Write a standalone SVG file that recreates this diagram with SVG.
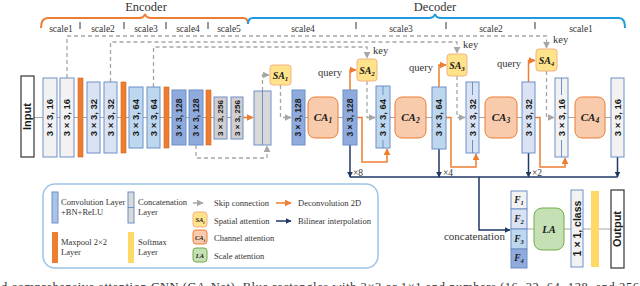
<svg xmlns="http://www.w3.org/2000/svg" width="640" height="286" viewBox="0 0 640 286">
<style>
.blk{stroke:#6F8FC8;stroke-width:1}
.io{fill:#fff;stroke:#333;stroke-width:1.2}
.mp{fill:#ED7D31;stroke:#D0651C;stroke-width:0.6}
.bt{font-family:"Liberation Sans",Arial,sans-serif;font-weight:bold;fill:#1a1a1a;text-anchor:middle}
.sr{font-family:"Liberation Serif","Times New Roman",serif;fill:#333}
.it{font-family:"Liberation Serif","Times New Roman",serif;font-weight:bold;font-style:italic;fill:#1a1a1a;text-anchor:middle}
.ca{fill:#F8CBAD;stroke:#ED7D31;stroke-width:1}
.sa{fill:#FFE38A;stroke:#F4B183;stroke-width:1}
.la{fill:#C5E0B4;stroke:#70AD47;stroke-width:1}
.dash{fill:none;stroke:#A6A6A6;stroke-width:1.3;stroke-dasharray:4 3}
.org{fill:none;stroke:#ED7D31;stroke-width:1.5}
.nav{fill:none;stroke:#1F3864;stroke-width:1.5}
.gl{fill:none;stroke:#A6A6A6;stroke-width:1}
.tick{stroke:#333;stroke-width:1}
</style>
<defs>
<marker id="ag" viewBox="0 0 10 10" refX="9" refY="5" markerWidth="7" markerHeight="7" orient="auto" markerUnits="userSpaceOnUse"><path d="M0,0 L10,5 L0,10 z" fill="#A6A6A6"/></marker>
<marker id="ao" viewBox="0 0 10 10" refX="9" refY="5" markerWidth="7" markerHeight="7" orient="auto" markerUnits="userSpaceOnUse"><path d="M0,0 L10,5 L0,10 z" fill="#ED7D31"/></marker>
<marker id="an" viewBox="0 0 10 10" refX="9" refY="5" markerWidth="6" markerHeight="6" orient="auto" markerUnits="userSpaceOnUse"><path d="M0,0 L10,5 L0,10 z" fill="#1F3864"/></marker>
</defs>
<rect width="640" height="286" fill="#fff"/>

<g id="braces">
<text class="sr" x="146" y="11" font-size="12.5" text-anchor="middle">Encoder</text>
<text class="sr" x="435" y="11" font-size="12.5" text-anchor="middle">Decoder</text>
<path d="M41,28 C41,21 43,18 48,18 H139 Q144,18 145,14 Q146,18 151,18 H243 Q248,18 248,24" fill="none" stroke="#ED7D31" stroke-width="2"/>
<path d="M248,24 Q248,18 253,18 H429 Q434,18 435,14 Q436,18 441,18 H619 Q625,18 625,28" fill="none" stroke="#1E9BE0" stroke-width="2"/>
<g class="tick"><line x1="80" y1="22" x2="80" y2="29"/><line x1="124" y1="22" x2="124" y2="29"/><line x1="166" y1="22" x2="166" y2="29"/><line x1="208" y1="22" x2="208" y2="29"/><line x1="356" y1="22" x2="356" y2="29"/><line x1="446" y1="22" x2="446" y2="29"/><line x1="535" y1="22" x2="535" y2="29"/></g>
<g class="sr" font-size="9.5" text-anchor="middle">
<text x="61" y="32">scale1</text><text x="103" y="32">scale2</text><text x="146" y="32">scale3</text><text x="188" y="32">scale4</text><text x="229" y="32">scale5</text>
<text x="303" y="32">scale4</text><text x="401" y="32">scale3</text><text x="491" y="32">scale2</text><text x="581" y="32">scale1</text>
</g>
</g>

<g id="connectors">
<path class="gl" d="M34,117.5 H243 M305,117.5 H308 M338,117.5 H343 M390,117.5 H395 M426,117.5 H432 M479,117.5 H485 M517,117.5 H522 M568,117.5 H575 M605,117.5 H611 M527,229 H534 M564,229 H571 M583,229 H611"/>
<path class="dash" d="M67,78 V36 H546.5 V48" marker-end="url(#ag)"/>
<path class="dash" d="M110.5,82 V42 H457 V53" marker-end="url(#ag)"/>
<path class="dash" d="M153.5,87 V47 H367 V58" marker-end="url(#ag)"/>
<path class="dash" d="M196,145 V158 H267 V146" marker-end="url(#ag)"/>
<path class="dash" d="M262.5,91 V75 H269" marker-end="url(#ag)"/>
<path class="dash" d="M280.5,85 V117.5 H291" marker-end="url(#ag)"/>
<path class="dash" d="M367,81 V117.5 H375" marker-end="url(#ag)"/>
<path class="dash" d="M457,76 V117.5 H465" marker-end="url(#ag)"/>
<path class="dash" d="M546.5,71 V117.5 H554" marker-end="url(#ag)"/>
<path class="org" d="M243,117.5 H253" marker-end="url(#ao)"/>
<path class="org" d="M350,90 V70 H356" marker-end="url(#ao)"/>
<path class="org" d="M357,117.5 H362 V162 H387 V149" marker-end="url(#ao)"/>
<path class="org" d="M439,87 V65 H446" marker-end="url(#ao)"/>
<path class="org" d="M446,117.5 H451 V167 H476 V154" marker-end="url(#ao)"/>
<path class="org" d="M528.5,82 V60.5 H535" marker-end="url(#ao)"/>
<path class="org" d="M535,117.5 H540 V167 H565 V158" marker-end="url(#ao)"/>
<path class="nav" d="M350,177 H617.5"/>
<path class="nav" d="M350,145 V177" marker-end="url(#an)"/>
<path class="nav" d="M439,149 V177" marker-end="url(#an)"/>
<path class="nav" d="M528.5,153 V177" marker-end="url(#an)"/>
<path class="nav" d="M617.5,157 V177" marker-end="url(#an)"/>
<path class="nav" d="M479,177 V230 H510" marker-end="url(#an)"/>
<g class="sr" font-size="9.5"><text x="353" y="176">×8</text><text x="443" y="176">×4</text><text x="532" y="176">×2</text></g>
<g class="sr" font-size="10.5"><text x="318" y="76">query</text><text x="409" y="71">query</text><text x="497" y="67">query</text><text x="373" y="54">key</text><text x="463" y="48">key</text><text x="553" y="43">key</text></g>
</g>

<g id="input"><rect class="io" x="21" y="76" width="13" height="81"/><text class="bt" font-size="11" transform="translate(27.5,116.5) rotate(-90)" dy="0.35em">Input</text></g>
<g id="enc1"><rect class="blk" x="43" y="78" width="14" height="79" fill="#F2F2F2"/><text class="bt" font-size="9.5" transform="translate(50,117.5) rotate(-90)" dy="0.35em">3 × 3, 16</text></g>
<g id="enc2"><rect class="blk" x="60" y="78" width="14" height="79" fill="#F2F2F2"/><text class="bt" font-size="9.5" transform="translate(67,117.5) rotate(-90)" dy="0.35em">3 × 3, 16</text></g>
<g id="pool1"><rect class="mp" x="78" y="78" width="5" height="79"/></g>
<g id="enc3"><rect class="blk" x="87" y="82" width="13" height="71" fill="#DAE3F3"/><text class="bt" font-size="9.5" transform="translate(93.5,117.5) rotate(-90)" dy="0.35em">3 × 3, 32</text></g>
<g id="enc4"><rect class="blk" x="104" y="82" width="13" height="71" fill="#DAE3F3"/><text class="bt" font-size="9.5" transform="translate(110.5,117.5) rotate(-90)" dy="0.35em">3 × 3, 32</text></g>
<g id="pool2"><rect class="mp" x="121" y="82" width="5" height="71"/></g>
<g id="enc5"><rect class="blk" x="129" y="87" width="14" height="61" fill="#BDD7EE"/><text class="bt" font-size="9.5" transform="translate(136,117.5) rotate(-90)" dy="0.35em">3 × 3, 64</text></g>
<g id="enc6"><rect class="blk" x="147" y="87" width="13" height="61" fill="#BDD7EE"/><text class="bt" font-size="9.5" transform="translate(153.5,117.5) rotate(-90)" dy="0.35em">3 × 3, 64</text></g>
<g id="pool3"><rect class="mp" x="164" y="87" width="5" height="61"/></g>
<g id="enc7"><rect class="blk" x="172" y="90" width="14" height="55" fill="#8FAADC"/><text class="bt" font-size="8.5" transform="translate(179,117.5) rotate(-90)" dy="0.35em">3 × 3, 128</text></g>
<g id="enc8"><rect class="blk" x="189" y="90" width="14" height="55" fill="#8FAADC"/><text class="bt" font-size="8.5" transform="translate(196,117.5) rotate(-90)" dy="0.35em">3 × 3, 128</text></g>
<g id="pool4"><rect class="mp" x="206" y="90" width="5" height="55"/></g>
<g id="enc9"><rect class="blk" x="214" y="97" width="13" height="42" fill="#D0CECE"/><text class="bt" font-size="8" transform="translate(220.5,118) rotate(-90)" dy="0.35em">3 × 3, 256</text></g>
<g id="enc10"><rect class="blk" x="231" y="97" width="12" height="42" fill="#D0CECE"/><text class="bt" font-size="8" transform="translate(237,118) rotate(-90)" dy="0.35em">3 × 3, 256</text></g>
<g id="concat0"><rect class="blk" x="254" y="91" width="17" height="54" fill="#D9D9D9"/><line class="blk" x1="262.5" y1="91" x2="262.5" y2="145"/></g>

<g id="sa1"><rect class="sa" x="270" y="65" width="21" height="20" rx="3"/><text class="it" x="280.5" y="79" font-size="10">SA<tspan font-size="7" dy="2">1</tspan></text></g>
<g id="dec1"><rect class="blk" x="292" y="90" width="13" height="55" fill="#8FAADC"/><text class="bt" font-size="8.5" transform="translate(298.5,117.5) rotate(-90)" dy="0.35em">3 × 3, 128</text></g>
<g id="ca1"><rect class="ca" x="308" y="97" width="30" height="41" rx="7"/><text class="it" x="323" y="121" font-size="11">CA<tspan font-size="7.5" dy="2">1</tspan></text></g>
<g id="dec2"><rect class="blk" x="343" y="90" width="14" height="55" fill="#8FAADC"/><text class="bt" font-size="8.5" transform="translate(350,117.5) rotate(-90)" dy="0.35em">3 × 3, 128</text></g>
<g id="sa2"><rect class="sa" x="357" y="59" width="20" height="22" rx="3"/><text class="it" x="367" y="74" font-size="10">SA<tspan font-size="7" dy="2">2</tspan></text></g>
<g id="dec3"><rect class="blk" x="376" y="86" width="14" height="62" fill="#BDD7EE"/><line class="blk" x1="383" y1="86" x2="383" y2="95"/><line class="blk" x1="383" y1="140" x2="383" y2="148"/><text class="bt" font-size="9.5" transform="translate(383,117.5) rotate(-90)" dy="0.35em">3 × 3, 64</text></g>
<g id="ca2"><rect class="ca" x="395" y="97" width="31" height="41" rx="7"/><text class="it" x="410.5" y="121" font-size="11">CA<tspan font-size="7.5" dy="2">2</tspan></text></g>
<g id="dec4"><rect class="blk" x="432" y="87" width="14" height="62" fill="#BDD7EE"/><text class="bt" font-size="9.5" transform="translate(439,117.5) rotate(-90)" dy="0.35em">3 × 3, 64</text></g>
<g id="sa3"><rect class="sa" x="447" y="54" width="20" height="22" rx="3"/><text class="it" x="457" y="69" font-size="10">SA<tspan font-size="7" dy="2">3</tspan></text></g>
<g id="dec5"><rect class="blk" x="466" y="82" width="13" height="71" fill="#DAE3F3"/><line class="blk" x1="472.5" y1="82" x2="472.5" y2="95"/><line class="blk" x1="472.5" y1="140" x2="472.5" y2="153"/><text class="bt" font-size="9.5" transform="translate(472.5,117.5) rotate(-90)" dy="0.35em">3 × 3, 32</text></g>
<g id="ca3"><rect class="ca" x="485" y="97" width="32" height="41" rx="7"/><text class="it" x="501" y="121" font-size="11">CA<tspan font-size="7.5" dy="2">3</tspan></text></g>
<g id="dec6"><rect class="blk" x="522" y="82" width="13" height="71" fill="#DAE3F3"/><text class="bt" font-size="9.5" transform="translate(528.5,117.5) rotate(-90)" dy="0.35em">3 × 3, 32</text></g>
<g id="sa4"><rect class="sa" x="536" y="49" width="21" height="22" rx="3"/><text class="it" x="546.5" y="64" font-size="10">SA<tspan font-size="7" dy="2">4</tspan></text></g>
<g id="dec7"><rect class="blk" x="555" y="78" width="13" height="79" fill="#F2F2F2"/><line class="blk" x1="561.5" y1="78" x2="561.5" y2="95"/><line class="blk" x1="561.5" y1="140" x2="561.5" y2="157"/><text class="bt" font-size="9.5" transform="translate(561.5,117.5) rotate(-90)" dy="0.35em">3 × 3, 16</text></g>
<g id="ca4"><rect class="ca" x="575" y="97" width="30" height="41" rx="7"/><text class="it" x="590" y="121" font-size="11">CA<tspan font-size="7.5" dy="2">4</tspan></text></g>
<g id="dec8"><rect class="blk" x="611" y="78" width="13" height="79" fill="#F2F2F2"/><text class="bt" font-size="9.5" transform="translate(617.5,117.5) rotate(-90)" dy="0.35em">3 × 3, 16</text></g>

<g id="features">
<rect class="blk" x="511" y="191" width="16" height="18" fill="#F2F2F2"/>
<rect class="blk" x="511" y="209" width="16" height="20" fill="#DAE3F3"/>
<rect class="blk" x="511" y="229" width="16" height="20" fill="#BDD7EE"/>
<rect class="blk" x="511" y="249" width="16" height="19" fill="#8FAADC"/>
<text class="it" x="519" y="203" font-size="9.5">F<tspan font-size="6.5" dy="2">1</tspan></text>
<text class="it" x="519" y="222" font-size="9.5">F<tspan font-size="6.5" dy="2">2</tspan></text>
<text class="it" x="519" y="242" font-size="9.5">F<tspan font-size="6.5" dy="2">3</tspan></text>
<text class="it" x="519" y="261" font-size="9.5">F<tspan font-size="6.5" dy="2">4</tspan></text>
<text class="sr" x="505" y="240" font-size="11" text-anchor="end">concatenation</text>
</g>
<g id="la"><rect class="la" x="534" y="208" width="30" height="42" rx="8"/><text class="it" x="549" y="233" font-size="10.5">LA</text></g>
<g id="conv1x1"><rect class="blk" x="571" y="190" width="12" height="77" fill="#F2F2F2"/><text class="bt" font-size="10.5" transform="translate(577,228.5) rotate(-90)" dy="0.35em">1 × 1, class</text></g>
<g id="softmax"><rect x="591" y="191" width="8" height="76" fill="#FFD966"/></g>
<g id="output"><rect class="io" x="611" y="190" width="13" height="78"/><text class="bt" font-size="11" transform="translate(617.5,229) rotate(-90)" dy="0.35em">Output</text></g>

<g id="legend">
<rect x="43" y="184" width="335" height="84" rx="12" fill="none" stroke="#9DC3E6" stroke-width="1.5"/>
<rect class="blk" x="52" y="192" width="6" height="31" fill="#A9C4E8"/>
<rect class="blk" x="128" y="192" width="6" height="31" fill="#D9D9D9"/><line class="blk" x1="128" y1="207.5" x2="134" y2="207.5"/>
<rect x="52" y="232" width="6" height="31" fill="#ED7D31"/>
<rect x="128" y="232" width="6" height="31" fill="#FFD966"/>
<g class="sr" font-size="8.5">
<text x="61" y="205">Convolution Layer</text><text x="61" y="215">+BN+ReLU</text>
<text x="138" y="205">Concatenation</text><text x="138" y="215">Layer</text>
<text x="61" y="245">Maxpool 2×2</text><text x="61" y="255">Layer</text>
<text x="138" y="245">Softmax</text><text x="138" y="255">Layer</text>
<text x="214" y="206">Skip connection</text>
<text x="214" y="224">Spatial attention</text>
<text x="214" y="241">Channel attention</text>
<text x="214" y="259">Scale attention</text>
<text x="298" y="206">Deconvolution 2D</text>
<text x="298" y="224">Bilinear interpolation</text>
</g>
<path class="dash" d="M193,203 H203" marker-end="url(#ag)"/>
<rect class="sa" x="193" y="212" width="14" height="15" rx="3"/><text class="it" x="200" y="222" font-size="6.5">SA<tspan font-size="4.5" dy="1.5">i</tspan></text>
<rect class="ca" x="193" y="230" width="14" height="14" rx="3"/><text class="it" x="200" y="240" font-size="6.5">CA<tspan font-size="4.5" dy="1.5">i</tspan></text>
<rect class="la" x="193" y="248" width="14" height="14" rx="3"/><text class="it" x="200" y="258" font-size="6.5">LA</text>
<path class="org" d="M276,203 H291" marker-end="url(#ao)"/>
<path class="nav" d="M276,221 H291" marker-end="url(#an)"/>
</g>

<text class="sr" x="1" y="291" font-size="12.5" fill="#222" textLength="638" lengthAdjust="spacing">d comprehensive attention CNN (CA-Net). Blue rectangles with 3×3 or 1×1 and numbers (16, 32, 64, 128, and 256</text>
</svg>
